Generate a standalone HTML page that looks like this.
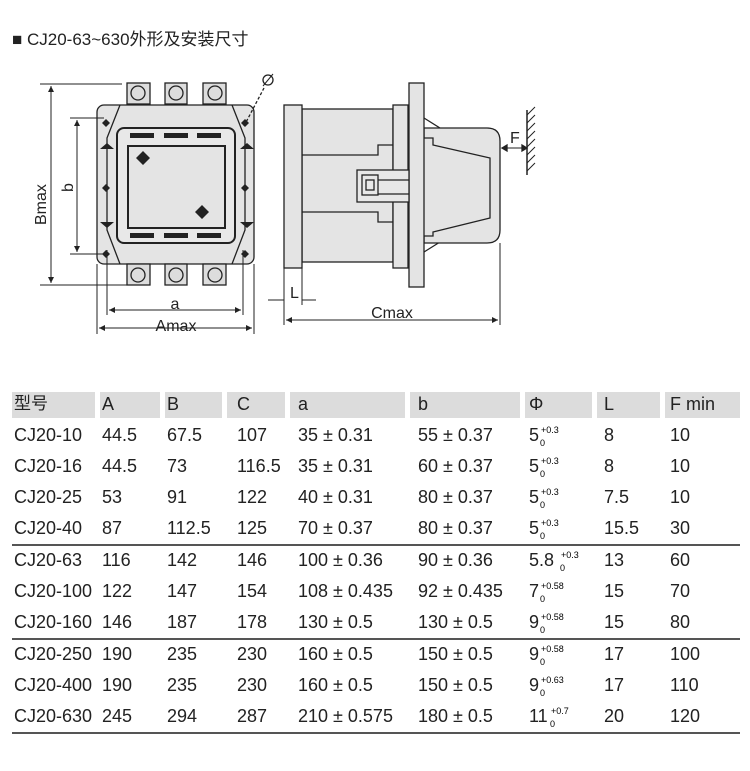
<!DOCTYPE html>
<html><head><meta charset="utf-8"><style>
body{margin:0;background:#fff;font-family:"Liberation Sans","Noto Sans CJK SC",sans-serif;}
.wrap{position:relative;width:750px;height:771px;overflow:hidden;}
.t{position:absolute;font-size:18px;color:#222;white-space:nowrap;line-height:22px;}
.h{position:absolute;background:#dcdcdc;height:26px;top:392px;}
.ln{position:absolute;left:12px;width:728px;height:2px;background:#555;}
.pm{position:absolute;font-size:9px;}
</style></head><body><div class="wrap">
<div class="t" style="left:12px;top:29px;font-size:17px">■ CJ20-63~630外形及安装尺寸</div>
<svg width="750" height="360" style="position:absolute;left:0;top:0" stroke="#222" fill="none" stroke-width="1.3">
<rect x="97" y="105" width="157" height="159" rx="7" fill="#e4e4e4"/>
<path d="M120 105 L107 138 L107 230 L120 264 M232 105 L245 138 L245 230 L232 264" />
<rect x="117" y="128" width="118" height="115" rx="7" fill="#e8e8e8" stroke-width="2"/>
<rect x="128" y="146" width="97" height="82" fill="#e4e4e4" stroke-width="2"/>
<g fill="#222" stroke="none">
<rect x="130" y="133" width="24" height="5"/><rect x="164" y="133" width="24" height="5"/><rect x="197" y="133" width="24" height="5"/>
<rect x="130" y="233" width="24" height="5"/><rect x="164" y="233" width="24" height="5"/><rect x="197" y="233" width="24" height="5"/>
<path d="M143 151l7 7-7 7-7-7z M202 205l7 7-7 7-7-7z M106 119l4 4-4 4-4-4z M245 119l4 4-4 4-4-4z M106 184l4 4-4 4-4-4z M245 184l4 4-4 4-4-4z M106 250l4 4-4 4-4-4z M245 250l4 4-4 4-4-4z"/>
<path d="M100 149h14l-7-6z M240 149h14l-7-6z M100 222h14l-7 6z M240 222h14l-7 6z"/>
</g>
<g fill="#ddd">
<rect x="127" y="83" width="23" height="21"/><rect x="165" y="83" width="22" height="21"/><rect x="203" y="83" width="23" height="21"/>
<rect x="127" y="264" width="23" height="21"/><rect x="165" y="264" width="22" height="21"/><rect x="203" y="264" width="23" height="21"/>
<circle cx="138" cy="93" r="7"/><circle cx="176" cy="93" r="7"/><circle cx="215" cy="93" r="7"/>
<circle cx="138" cy="275" r="7"/><circle cx="176" cy="275" r="7"/><circle cx="215" cy="275" r="7"/>
</g>
<path d="M40 84H122 M40 285H128 M70 118H104 M70 254H104 M51 86V283 M77 120V252 M107 250V315 M243 250V315 M97 264V334 M254 264V334 M109 310H241 M99 328H252" stroke-width="1"/>
<path d="M244 126 L264 88" stroke-dasharray="3 2"/>
<circle cx="268" cy="80" r="5"/><path d="M263 86 L273 74" stroke-width="1"/>
<rect x="302" y="109" width="91" height="153" fill="#e4e4e4"/>
<path d="M302 155H378V145H393 M302 212H378V222H393" />
<rect x="284" y="105" width="18" height="163" fill="#e4e4e4"/>
<rect x="393" y="105" width="15" height="163" fill="#e4e4e4"/>
<path d="M424 118 L440 128 M424 252 L440 242"/>
<path d="M424 128H487Q500 128 500 141V230Q500 243 487 243H424Z" fill="#e4e4e4"/>
<path d="M424 138H433V145L490 158V218L433 232V236H424" fill="#e4e4e4"/>
<rect x="409" y="83" width="15" height="204" fill="#e4e4e4"/>
<rect x="357" y="170" width="52" height="32" fill="#e8e8e8"/>
<rect x="362" y="175" width="16" height="20"/><rect x="366" y="180" width="8" height="10"/>
<path d="M378 180H409 M378 194H409"/>
<path d="M527 110V175" stroke-width="1.5"/>
<path d="M527 115l8-8M527 123l8-8M527 131l8-8M527 139l8-8M527 147l8-8M527 155l8-8M527 163l8-8M527 171l8-8" stroke-width="1"/>
<path d="M502 148H527" stroke-width="1"/><path d="M502 148l5-3v6z M527 148l-5-3v6z" fill="#222"/>
<path d="M284 268V325 M302 268V305 M500 243V325 M286 320H498 M268 300H284 M302 300H316" stroke-width="1"/>
<path d="M286 320l6-3v6z M498 320l-6-3v6z M109 310l6-3v6z M241 310l-6-3v6z M99 328l6-3v6z M252 328l-6-3v6z M51 86l-3 6h6z M51 283l-3-6h6z M77 120l-3 6h6z M77 252l-3-6h6z" fill="#222" stroke="none"/>
<g stroke="none" fill="#222" font-family="Liberation Sans,sans-serif" font-size="16">
<text x="175" y="309" text-anchor="middle">a</text>
<text x="176" y="331" text-anchor="middle">Amax</text>
<text x="392" y="318" text-anchor="middle">Cmax</text>
<text x="290" y="298">L</text>
<text x="510" y="143">F</text>
<text transform="translate(46 225) rotate(-90)">Bmax</text>
<text transform="translate(73 192) rotate(-90)">b</text>
</g>
</svg>
<div class="h" style="left:12px;width:83px"></div><div class="h" style="left:100px;width:60px"></div><div class="h" style="left:165px;width:57px"></div><div class="h" style="left:227px;width:58px"></div><div class="h" style="left:290px;width:115px"></div><div class="h" style="left:410px;width:110px"></div><div class="h" style="left:525px;width:67px"></div><div class="h" style="left:597px;width:63px"></div><div class="h" style="left:665px;width:75px"></div>
<div class="ln" style="top:544px"></div><div class="ln" style="top:638px"></div><div class="ln" style="top:732px"></div>
<div id="tb"></div>
<script>
var rows=[["型号","A","B","C","a","b","Φ","L","F min"],
["CJ20-10","44.5","67.5","107","35 ± 0.31","55 ± 0.37","5|+0.3","8","10"],
["CJ20-16","44.5","73","116.5","35 ± 0.31","60 ± 0.37","5|+0.3","8","10"],
["CJ20-25","53","91","122","40 ± 0.31","80 ± 0.37","5|+0.3","7.5","10"],
["CJ20-40","87","112.5","125","70 ± 0.37","80 ± 0.37","5|+0.3","15.5","30"],
["CJ20-63","116","142","146","100 ± 0.36","90 ± 0.36","5.8|+0.3","13","60"],
["CJ20-100","122","147","154","108 ± 0.435","92 ± 0.435","7|+0.58","15","70"],
["CJ20-160","146","187","178","130 ± 0.5","130 ± 0.5","9|+0.58","15","80"],
["CJ20-250","190","235","230","160 ± 0.5","150 ± 0.5","9|+0.58","17","100"],
["CJ20-400","190","235","230","160 ± 0.5","150 ± 0.5","9|+0.63","17","110"],
["CJ20-630","245","294","287","210 ± 0.575","180 ± 0.5","11|+0.7","20","120"]];
var xs=[14,102,167,237,298,418,529,604,670];
var ys=[393,424,455,486,517,549,580,611,643,674,705];
var h="";
rows.forEach(function(r,i){r.forEach(function(c,j){
 var st=(i==0&&j==0)?';font-size:17px;line-height:22px':'';
 if(c.indexOf("|")>0){var p=c.split("|");var w=p[0].length*10;
  h+='<div class="t" style="left:'+xs[j]+'px;top:'+ys[i]+'px">'+p[0]+'</div><div class="pm" style="left:'+(xs[j]+w+2)+'px;top:'+(ys[i]+1)+'px">'+p[1]+'</div><div class="pm" style="left:'+(xs[j]+w+1)+'px;top:'+(ys[i]+14)+'px">0</div>';}
 else h+='<div class="t" style="left:'+xs[j]+'px;top:'+ys[i]+'px'+st+'">'+c+'</div>';});});
document.getElementById("tb").outerHTML=h;
</script>
</div></body></html>
